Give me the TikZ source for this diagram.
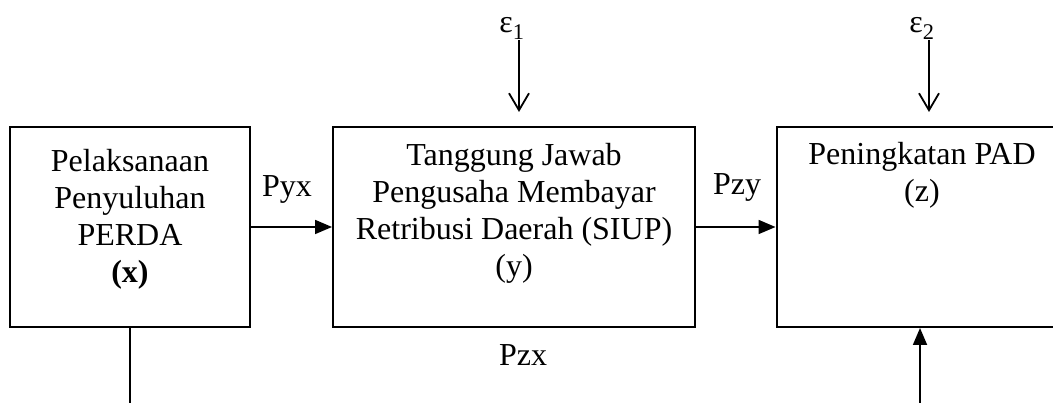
\documentclass[tikz,border=0pt]{standalone}
\usepackage{fontspec}
\setmainfont{Liberation Serif}
\usetikzlibrary{positioning,arrows.meta}

\begin{document}
\begin{tikzpicture}[x=1pt,y=-1pt,
    kotak/.style={draw, line width=2pt, minimum width=#1, minimum height=200pt, inner sep=0pt},
    isi/.style={align=center, inner sep=0pt, font=\fontsize{32}{37}\selectfont},
    label teks/.style={inner sep=0pt, anchor=base, font=\fontsize{32}{37}\selectfont},
    panah/.style={line width=1.8pt, -{Triangle[length=17pt,width=14pt]}},
    galat/.style={line width=1.8pt, -{Straight Barb[length=17pt,width=20pt,line width=1.8pt]}}]
    \clip (0,0) rectangle (1053,403);

    % Kotak variabel
    \node[kotak=240pt] (bx) at (130,227) {};
    \node[kotak=362pt] (by) at (514,227) {};
    \node[kotak=303pt] (bz) at (928,227) {};

    % Isi kotak
    \node[isi, below=23pt of bx.north] (tx) {Pelaksanaan\\Penyuluhan\\PERDA\\\textbf{(x)}};
    \node[isi, below=17pt of by.north] (ty) {Tanggung Jawab\\Pengusaha Membayar\\Retribusi Daerah (SIUP)\\(y)};
    \node[isi, below=16pt of bz.north, xshift=-6pt] (tz) {Peningkatan PAD\\(z)};

    % Galat
    \node[label teks] (e1) at (512,33) {ε\textsubscript{1}};
    \node[label teks] (e2) at (922,33) {ε\textsubscript{2}};
    \coordinate (g1) at (519,40);
    \coordinate (g2) at (929,40);
    \draw[galat, shorten >=14pt] (g1) -- (g1 |- by.north);
    \draw[galat, shorten >=14pt] (g2) -- (g2 |- bz.north);

    % Jalur antar variabel
    \draw[panah] (bx) -- (by);
    \draw[panah] (by) -- (bz);
    \node[label teks] (pyx) at (287,197) {Pyx};
    \node[label teks] (pzy) at (737,195) {Pzy};
    \node[label teks] (pzx) at (523,366) {Pzx};

    % Jalur x ke z
    \coordinate (xbawah) at (130,420);
    \coordinate (zbawah) at (920,420);
    \draw[line width=1.8pt] (bx.south) -- (xbawah);
    \draw[panah] (zbawah) -- (zbawah |- bz.south);
\end{tikzpicture}
\end{document}
